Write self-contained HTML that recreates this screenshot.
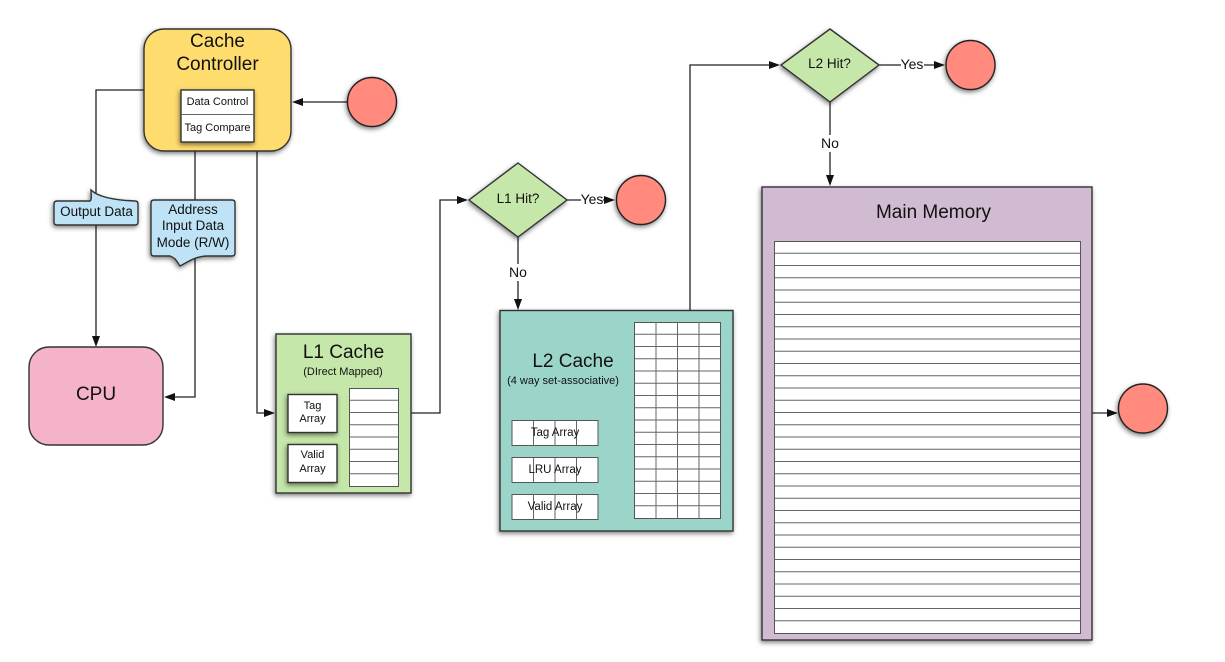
<!DOCTYPE html>
<html lang="en">
<head>
<meta charset="utf-8">
<title>Cache Hierarchy Diagram</title>
<style>
html,body{margin:0;padding:0;background:#fff;width:1225px;height:662px;overflow:hidden}
svg{display:block}
text{font-family:"Liberation Sans",sans-serif;fill:#111;text-anchor:middle}
.c{fill:#FF8A7D;stroke:#222;stroke-width:1.4}
.l{fill:none;stroke:#222;stroke-width:1.3}
.t{fill:none;stroke:#666;stroke-width:1}
.w{fill:#fff;stroke:#555;stroke-width:1}
.b{stroke:#333;stroke-width:1.4}
.a{fill:#111;stroke:none}
</style>
</head>
<body>
<svg width="1225" height="662" viewBox="0 0 1225 662" xmlns="http://www.w3.org/2000/svg">
<defs>
<filter id="s" x="-20%" y="-20%" width="140%" height="140%">
<feDropShadow dx="-1" dy="2" stdDeviation="2.5" flood-color="#000" flood-opacity="0.5"/>
</filter>
</defs>

<!-- connectors -->
<path class="l" d="M144 90H96V340"/>
<path class="l" d="M195 151V397H172"/>
<path class="l" d="M257 151V413H268"/>
<path class="l" d="M347 102H300"/>
<path class="l" d="M411 413H440V200H461"/>
<path class="l" d="M567 200H608"/>
<path class="l" d="M518 237V303"/>
<path class="l" d="M690 310V65H772"/>
<path class="l" d="M879 65H938"/>
<path class="l" d="M830 102V179"/>
<path class="l" d="M1092 413H1111"/>

<!-- arrowheads -->
<path class="a" d="M96 347l-4-11h8z"/>
<path class="a" d="M164 397l11-4v8z"/>
<path class="a" d="M275 413l-11-4v8z"/>
<path class="a" d="M292 102l11-4v8z"/>
<path class="a" d="M468 200l-11-4v8z"/>
<path class="a" d="M615 200l-11-4v8z"/>
<path class="a" d="M518 310l-4-11h8z"/>
<path class="a" d="M780 65l-11-4v8z"/>
<path class="a" d="M945 65l-11-4v8z"/>
<path class="a" d="M830 186l-4-11h8z"/>
<path class="a" d="M1118 413l-11-4v8z"/>

<!-- Cache Controller -->
<rect class="b" x="144" y="29" width="147" height="122" rx="20" fill="#FFDC6E" filter="url(#s)"/>
<text x="217.500" y="47" font-size="19">Cache</text>
<text x="217.500" y="70" font-size="19">Controller</text>
<rect class="b" x="181" y="90" width="73" height="52" fill="#fff" filter="url(#s)"/>
<path class="t" d="M181 114.500H254"/>
<text x="217.500" y="105" font-size="11">Data Control</text>
<text x="217.500" y="131" font-size="11">Tag Compare</text>

<!-- Red circles -->
<circle class="c" cx="372" cy="102" r="24.500" filter="url(#s)"/>
<circle class="c" cx="641" cy="200" r="24.500" filter="url(#s)"/>
<circle class="c" cx="970.500" cy="65" r="24.500" filter="url(#s)"/>
<circle class="c" cx="1143" cy="408.500" r="24.500" filter="url(#s)"/>

<!-- Callouts -->
<path class="b" fill="#BFE3F6" filter="url(#s)" d="M56 201H90C92 200 91 194 91 190C97 196 110 200 135 201Q138 201 138 204V222Q138 225 135 225H57Q54 225 54 222V204Q54 201 57 201Z"/>
<text x="96.500" y="216" font-size="13.500">Output Data</text>
<path class="b" fill="#BFE3F6" filter="url(#s)" d="M154 200H232Q235 200 235 203V253Q235 256 232 256H208C195 256 188 262 180 266C177 262 176 258 170 256H154Q151 256 151 253V203Q151 200 154 200Z"/>
<text x="193" y="214" font-size="13.500">Address</text>
<text x="193" y="230" font-size="13.500">Input Data</text>
<text x="193" y="247" font-size="13.500">Mode (R/W)</text>

<!-- CPU -->
<rect class="b" x="29" y="347" width="134" height="98" rx="20" fill="#F4B3C8"/>
<text x="96" y="400" font-size="19">CPU</text>

<!-- L1 Cache -->
<rect class="b" x="276" y="334" width="135" height="159" fill="#C5E7AA" filter="url(#s)"/>
<text x="343.500" y="358" font-size="19">L1 Cache</text>
<text x="343" y="375" font-size="11">(DIrect Mapped)</text>
<rect class="b" x="288" y="394.500" width="49" height="38" fill="#fff" filter="url(#s)"/>
<text x="312.500" y="409" font-size="11">Tag</text>
<text x="312.500" y="422" font-size="11">Array</text>
<rect class="b" x="288" y="444.500" width="49" height="38" fill="#fff" filter="url(#s)"/>
<text x="312.500" y="458" font-size="11">Valid</text>
<text x="312.500" y="472" font-size="11">Array</text>
<rect class="w" x="349.500" y="388.500" width="49" height="98"/>
<path class="t" d="M349.500 400.250H398.500M349.500 412.500H398.500M349.500 424.750H398.500M349.500 437H398.500M349.500 449.250H398.500M349.500 461.500H398.500M349.500 473.750H398.500"/>

<!-- L1 Hit -->
<polygon class="b" points="518,163 567,200 518,237 469,200" fill="#C5E7AA" filter="url(#s)"/>
<text x="518" y="203" font-size="13.500">L1 Hit?</text>
<rect x="581" y="190" width="22" height="18" fill="#fff"/>
<text x="592" y="204" font-size="14">Yes</text>
<rect x="508" y="264" width="20" height="17" fill="#fff"/>
<text x="518" y="277" font-size="14">No</text>

<!-- L2 Cache -->
<rect class="b" x="500" y="310.500" width="233" height="220.500" fill="#9BD5CA" filter="url(#s)"/>
<text x="573" y="367" font-size="19">L2 Cache</text>
<text x="563" y="384" font-size="11">(4 way set-associative)</text>
<rect class="w" x="512" y="420.500" width="86" height="25"/>
<rect class="w" x="512" y="457.500" width="86" height="25"/>
<rect class="w" x="512" y="494.500" width="86" height="25"/>
<path class="t" d="M533.500 420.500V445.500M555 420.500V445.500M576.500 420.500V445.500M533.500 457.500V482.500M555 457.500V482.500M576.500 457.500V482.500M533.500 494.500V519.500M555 494.500V519.500M576.500 494.500V519.500"/>
<text x="555" y="436" font-size="11.500">Tag Array</text>
<text x="555" y="473" font-size="11.500">LRU Array</text>
<text x="555" y="510" font-size="11.500">Valid Array</text>
<rect class="w" x="634.500" y="322.500" width="86" height="196"/>
<path class="t" d="M656 322.500V518.500M677.500 322.500V518.500M699 322.500V518.500M634.500 334.250H720.500M634.500 346.500H720.500M634.500 358.750H720.500M634.500 371H720.500M634.500 383.250H720.500M634.500 395.500H720.500M634.500 407.750H720.500M634.500 420H720.500M634.500 432.250H720.500M634.500 444.500H720.500M634.500 456.750H720.500M634.500 469H720.500M634.500 481.250H720.500M634.500 493.500H720.500M634.500 505.750H720.500"/>

<!-- L2 Hit -->
<polygon class="b" points="830,29 879,65 830,102 781,65" fill="#C5E7AA" filter="url(#s)"/>
<text x="829.500" y="68" font-size="13.500">L2 Hit?</text>
<rect x="901" y="56" width="23" height="16" fill="#fff"/>
<text x="912" y="69" font-size="14">Yes</text>
<rect x="820" y="135" width="20" height="17" fill="#fff"/>
<text x="830" y="148" font-size="14">No</text>

<!-- Main Memory -->
<rect class="b" x="762" y="187" width="330" height="453" fill="#D1BBD2" filter="url(#s)"/>
<text x="933.500" y="218" font-size="19">Main Memory</text>
<rect class="w" x="774.500" y="241.500" width="306" height="392"/>
<path class="t" d="M774.500 253.250H1080.500M774.500 265.500H1080.500M774.500 277.750H1080.500M774.500 290H1080.500M774.500 302.250H1080.500M774.500 314.500H1080.500M774.500 326.750H1080.500M774.500 339H1080.500M774.500 351.250H1080.500M774.500 363.500H1080.500M774.500 375.750H1080.500M774.500 388H1080.500M774.500 400.250H1080.500M774.500 412.500H1080.500M774.500 424.750H1080.500M774.500 437H1080.500M774.500 449.250H1080.500M774.500 461.500H1080.500M774.500 473.750H1080.500M774.500 486H1080.500M774.500 498.250H1080.500M774.500 510.500H1080.500M774.500 522.750H1080.500M774.500 535H1080.500M774.500 547.250H1080.500M774.500 559.500H1080.500M774.500 571.750H1080.500M774.500 584H1080.500M774.500 596.250H1080.500M774.500 608.500H1080.500M774.500 620.750H1080.500"/>
</svg>
</body>
</html>
